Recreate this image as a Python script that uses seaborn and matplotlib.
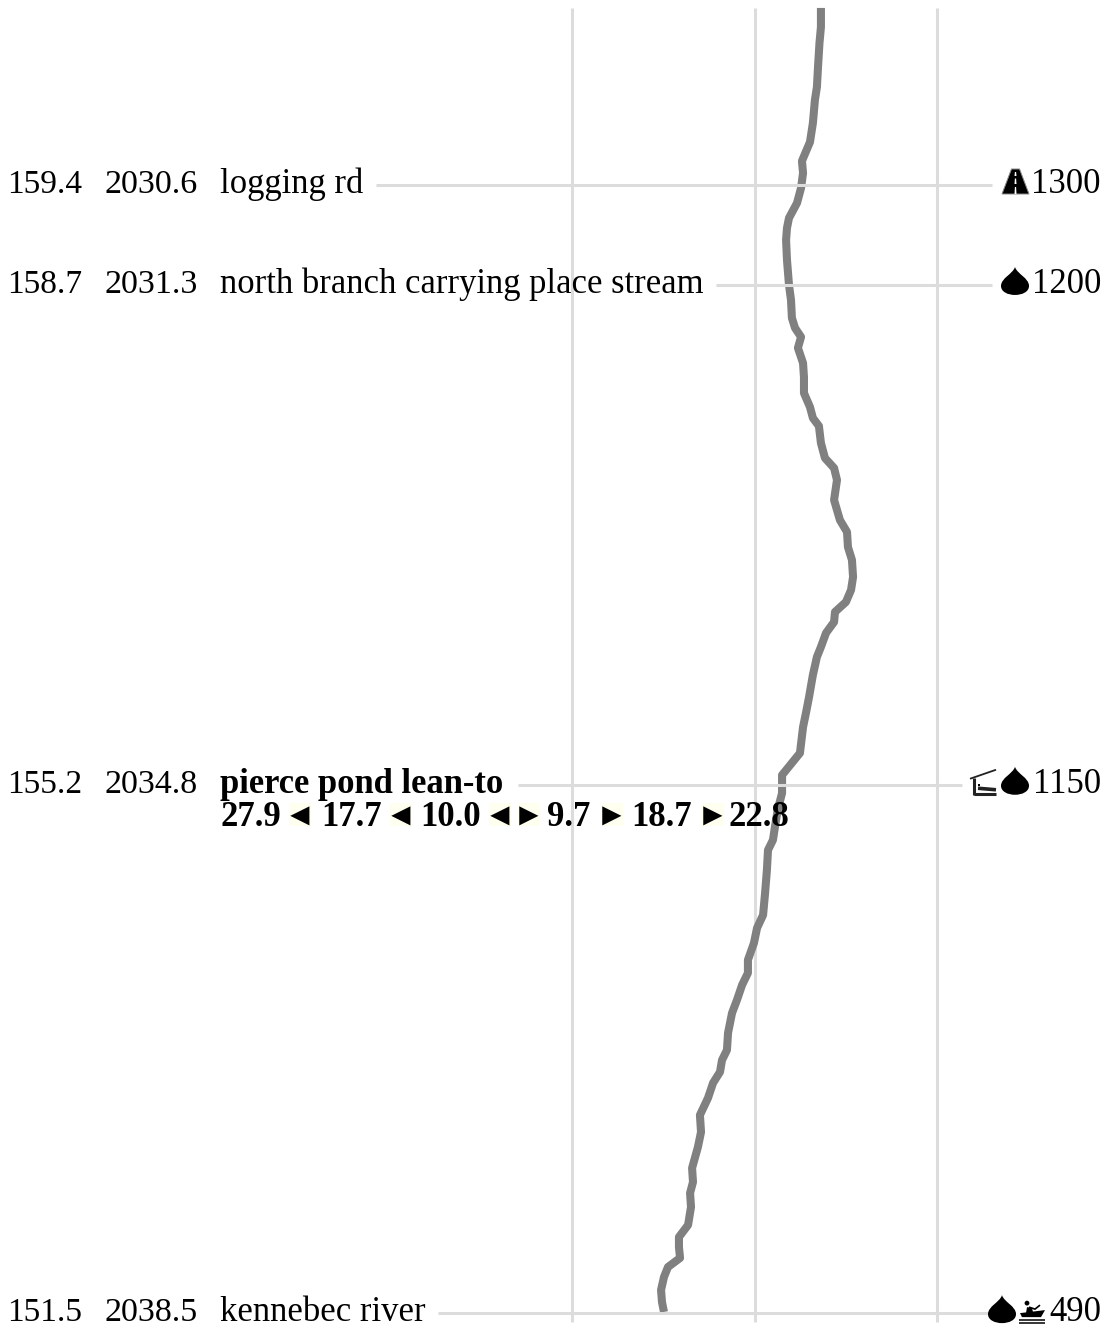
import numpy as np
import pandas as pd
import seaborn as sns
import matplotlib
matplotlib.use("Agg")
import matplotlib.pyplot as plt
from matplotlib.path import Path
from matplotlib.patches import PathPatch
from matplotlib.transforms import Affine2D, blended_transform_factory

# ---- data ----
profile_mile = [160.64,160.506,160.394,160.226,160.086,159.995,159.834,159.701,159.568,159.484,159.379,159.274,159.169,159.099,159.015,158.875,158.7,158.595,158.469,158.399,158.336,158.259,158.153,158.055,157.943,157.845,157.768,157.712,157.593,157.488,157.418,157.334,157.194,157.054,156.97,156.865,156.774,156.655,156.564,156.48,156.41,156.34,156.263,156.165,156.095,155.969,155.815,155.703,155.604,155.422,155.268,155.142,155.023,154.904,154.813,154.743,154.603,154.442,154.288,154.197,154.092,153.973,153.882,153.798,153.693,153.602,153.462,153.342,153.272,153.189,153.112,153.006,152.887,152.768,152.663,152.516,152.418,152.341,152.243,152.117,152.033,151.963,151.886,151.823,151.753,151.662,151.578,151.508]
profile_elev = [1364,1364,1356,1348,1342,1331,1320,1304,1260,1266,1255,1233,1189,1178,1173,1178,1189,1200,1205,1222,1255,1238,1266,1271,1271,1304,1320,1353,1364,1386,1436,1452,1436,1468,1507,1512,1534,1540,1529,1501,1441,1436,1392,1364,1342,1320,1299,1282,1266,1249,1151,1151,1127,1112,1101,1074,1068,1058,1047,1014,997,964,964,932,904,877,855,849,822,811,773,745,701,707,690,658,663,647,652,636,586,586,592,526,504,488,493,504]
grid_elev = [0, 1000, 2000]

way_mile = [159.4, 158.7, 155.2, 151.5]
way_left = ["159.4", "158.7", "155.2", "151.5"]
way_dist = ["2030.6", "2031.3", "2034.8", "2038.5"]
way_name = ["logging rd", "north branch carrying place stream", "pierce pond lean-to", "kennebec river"]
way_elev = ["1300", "1200", "1150", "490"]
shelter_dists = ["27.9", "17.7", "10.0", "9.7", "18.7", "22.8"]

# ---- layout ----
W, H = 1106, 1330
sns.set_theme(style="white")
plt.rcParams['font.family'] = ['Liberation Serif', 'DejaVu Serif']
fig = plt.figure(figsize=(W/100, H/100), dpi=100, facecolor="white")
ax = fig.add_axes([0, 0, 1, 1])
PX_FT = 0.1825
PX_MI = 142.8
ax.set_xlim((0-572)/PX_FT, (W-572)/PX_FT)
ax.set_ylim(159.4-(H-185)/PX_MI, 159.4+185/PX_MI)
ax.axis("off")
GRID = "#dcdcdc"
FS = 25
INK = "black"
top = 159.4+(185-8)/PX_MI
bot = 159.4-(1322-185)/PX_MI
ax.vlines(grid_elev, bot, top, color=GRID, lw=2.2, zorder=1)

df = pd.DataFrame({"mile": profile_mile, "elev": profile_elev})
sns.lineplot(data=df, x="elev", y="mile", sort=False, estimator=None, color="#808080",
             ax=ax, zorder=2, legend=False)
ln = ax.lines[-1]
ln.set_linewidth(5.8)
ln.set_solid_joinstyle("round")
ln.set_solid_capstyle("butt")
ax.set_xlabel(""); ax.set_ylabel("")

blend = blended_transform_factory(ax.transAxes, ax.transData)
def text(s, xpx, mile, dy=8, ha="left", **kw):
    ax.annotate(s, xy=(xpx/W, mile), xycoords=blend, xytext=(0, -dy*0.72),
                textcoords="offset points", ha=ha, va="baseline",
                fontsize=kw.pop("fontsize", FS), color=INK, zorder=5, **kw)

leader_px = [(376, 992), (716, 992), (518, 962), (438, 988)]
for m, (a, b) in zip(way_mile, leader_px):
    ax.plot([a/W, b/W], [m, m], transform=blend, color=GRID, lw=2.2, zorder=3, solid_capstyle="butt")

for i, m in enumerate(way_mile):
    text(way_left[i], 82, m, ha="right", fontsize=24)
    text(way_dist[i], 198, m, ha="right", fontsize=24.5)
    text(way_name[i], 220, m, fontweight="bold" if i == 2 else "normal", fontsize=24.9)
    text(way_elev[i], 1101, m, ha="right")

# ---- icons (local pixels, y down, origin on leader height) ----
def place(path, cx, mile, z=6, **kw):
    y = ax.transData.transform((0, mile))[1]
    tr = Affine2D().scale(1, -1).translate(cx, y)
    kw.setdefault("lw", 0)
    ax.add_patch(PathPatch(path, transform=tr, zorder=z, **kw))

def seg(pts):
    return Path(pts, [1]+[2]*(len(pts)-1))

# bold shelter-distance row
row = way_mile[2]
for s, x in zip(shelter_dists, [220, 321, 420, 547, 631, 729]):
    text(s, x, row, dy=41.5, fontweight="bold")
for ch, x in zip(["\u25c4", "\u25c4", "\u25c4", "\u25ba", "\u25ba", "\u25ba"],
                 [299.5, 400.5, 499.5, 528.5, 611.5, 712.5]):
    place(seg([(-11,18),(11,18),(11,41),(-11,41),(-11,18)]), x, row, z=4, fc="#fffff0")
    text(ch, x, row, dy=41, ha="center", fontweight="bold", fontsize=23)

drop = Path([(0,-18),(2,-11),(14,-7),(14,1),(14,7),(7,10),(0,10),(-7,10),(-14,7),(-14,1),(-14,-7),(-2,-11),(0,-18)],
            [1,4,4,4,4,4,4,4,4,4,4,4,4])
road = Path([(-4,-16),(4,-16),(13.5,9),(-13.5,9),(-4,-16)], [1,2,2,2,79])
place(road, 1015.5, way_mile[0], fc="black", ec="#888888", lw=0.7)
for a, b in [(-13,-9), (-6.5,-1), (2,9)]:
    place(seg([(-0.6,a),(0.6,a),(1,b),(-1,b),(-0.6,a)]), 1015.5, way_mile[0], fc="white")
place(drop, 1015, way_mile[1], fc="black")
place(drop, 1015, way_mile[2], fc="black")
place(drop, 1002, way_mile[3], fc="black")
# shelter
for pts, lw in [([(-14,-6),(12,-15)],1.3), ([(-10,-7),(-10,10)],2.2), ([(-10,9),(12,9)],2.2), ([(-6,3.5),(12,5)],2.6)]:
    place(seg(pts), 984, way_mile[2], ec="#222222", fill=False, lw=lw)
place(seg([(-6.5,-1),(-4,-1),(-4,1),(-6.5,1),(-6.5,-1)]), 984, way_mile[2], fc="black")
# canoeist
cn = 1032
place(Path([(-12,0),(13,-3),(9,4),(-10,4),(-12,0)], [1,2,2,2,79]), cn, way_mile[3], fc="black")
place(seg([(-6,0),(-5,-6),(0,-5),(1,-1),(-6,0)]), cn, way_mile[3], fc="black")
place(Path.circle((-5,-10),2.4), cn, way_mile[3], fc="black")
place(seg([(-3,-6),(3,-4),(8,-8)]), cn, way_mile[3], ec="black", fill=False, lw=1.2)
for d in (6.5, 9.5):
    place(seg([(-13,d),(13,d)]), cn, way_mile[3], ec="black", fill=False, lw=1.1)

fig.savefig("out.png", dpi=100, facecolor="white")
